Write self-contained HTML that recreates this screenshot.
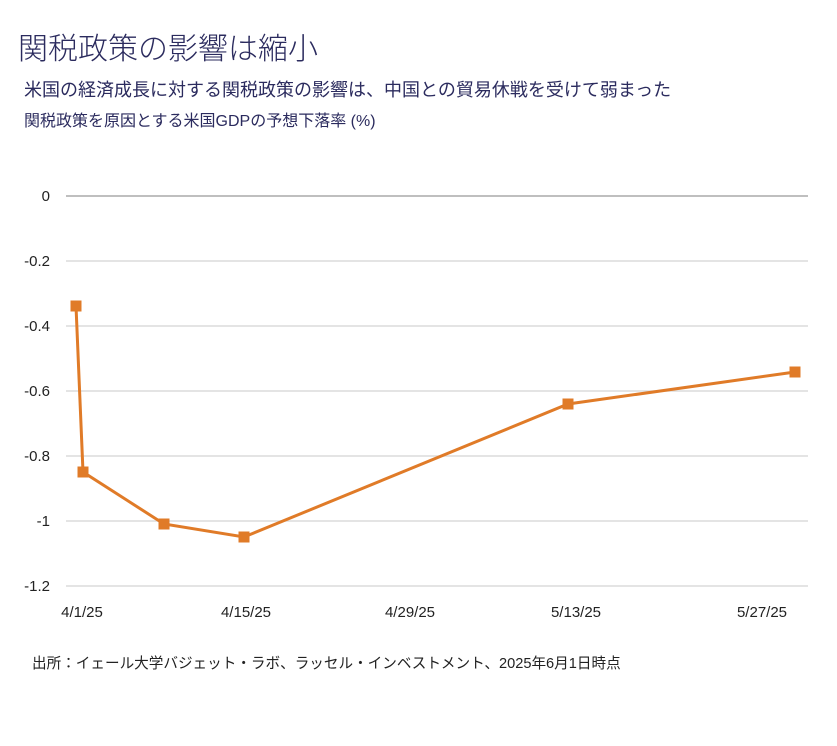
<!DOCTYPE html>
<html><head><meta charset="utf-8"><style>
body{margin:0;background:#fff;width:837px;height:746px;overflow:hidden;font-family:"Liberation Sans","Noto Sans CJK JP",sans-serif;}
</style></head><body>
<svg width="837" height="746" xmlns="http://www.w3.org/2000/svg" style="position:absolute;left:0;top:0">
<g font-family="Liberation Sans, Noto Sans CJK JP, sans-serif" fill="#2b2b5e">
<text x="18" y="59" font-size="30" font-weight="300">関税政策の影響は縮小</text>
<text x="24" y="96" font-size="18">米国の経済成長に対する関税政策の影響は、中国との貿易休戦を受けて弱まった</text>
<text x="24" y="126" font-size="16">関税政策を原因とする米国GDPの予想下落率 (%)</text>
</g>
<g stroke="#dcdcdc" stroke-width="1.5">
<line x1="66" x2="808" y1="261" y2="261"/><line x1="66" x2="808" y1="326" y2="326"/>
<line x1="66" x2="808" y1="391" y2="391"/><line x1="66" x2="808" y1="456" y2="456"/>
<line x1="66" x2="808" y1="521" y2="521"/><line x1="66" x2="808" y1="586" y2="586"/>
</g>
<line x1="66" x2="808" y1="196" y2="196" stroke="#aaa" stroke-width="1.5"/>
<g font-size="15" fill="#222" text-anchor="end" font-family="Liberation Sans, sans-serif">
<text x="50" y="201">0</text><text x="50" y="266">-0.2</text><text x="50" y="331">-0.4</text>
<text x="50" y="396">-0.6</text><text x="50" y="461">-0.8</text><text x="50" y="526">-1</text><text x="50" y="591">-1.2</text>
</g>
<g font-size="15" fill="#222" text-anchor="middle" font-family="Liberation Sans, sans-serif">
<text x="82" y="617">4/1/25</text><text x="246" y="617">4/15/25</text><text x="410" y="617">4/29/25</text>
<text x="576" y="617">5/13/25</text><text x="762" y="617">5/27/25</text>
</g>
<polyline points="76,306 83,472 164,524 244,537 568,404 795,372" fill="none" stroke="#e07b28" stroke-width="3"/>
<g fill="#e07b28">
<rect x="70.5" y="300.5" width="11" height="11"/><rect x="77.5" y="466.5" width="11" height="11"/>
<rect x="158.5" y="518.5" width="11" height="11"/><rect x="238.5" y="531.5" width="11" height="11"/>
<rect x="562.5" y="398.5" width="11" height="11"/><rect x="789.5" y="366.5" width="11" height="11"/>
</g>
<text x="32" y="668" font-size="14.6" fill="#222" font-family="Liberation Sans, Noto Sans CJK JP, sans-serif">出所：イェール大学バジェット・ラボ、ラッセル・インベストメント、2025年6月1日時点</text>
</svg>
</body></html>
